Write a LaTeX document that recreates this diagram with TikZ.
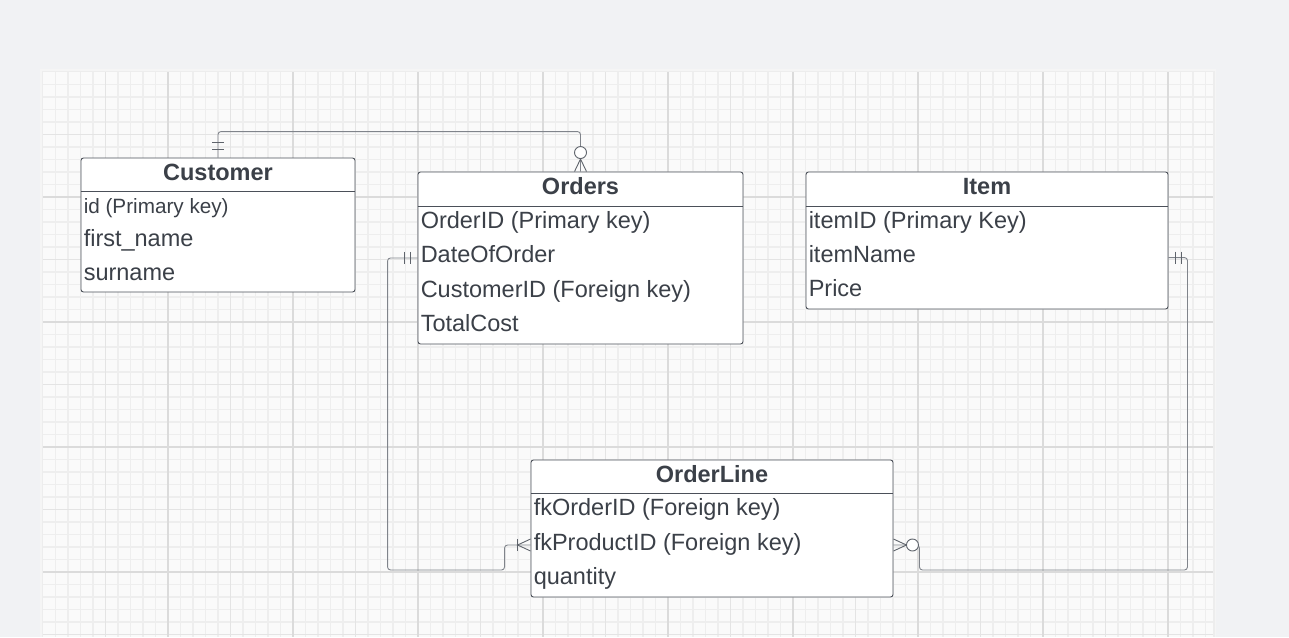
\documentclass[tikz,border=0pt]{standalone}
\usepackage{fontspec}
\setmainfont{Liberation Sans}
\usetikzlibrary{positioning, calc}
\definecolor{pagebg}{HTML}{F1F2F4}
\definecolor{gridminor}{HTML}{EEEEEE}
\definecolor{gridmid}{HTML}{E4E4E4}
\definecolor{gridmajor}{HTML}{DBDBDB}
\definecolor{boxline}{HTML}{4B5059}
\definecolor{boxtext}{HTML}{3B4048}
\definecolor{linkgray}{HTML}{80848B}
\definecolor{tickgray}{HTML}{5E636B}

\tikzset{
  entity/.style={draw=boxline, fill=white, line width=0.9pt, rounded corners=2.5, inner sep=0pt},
  ehead/.style={font=\bfseries\fontsize{23.5}{23.5}\selectfont, text=boxtext, inner sep=0pt,
    text height=1.1em, text depth=0.1em},
  erow/.style={anchor=west, text=boxtext, inner xsep=3, inner ysep=0,
    text height=1.1em, text depth=0.1em},
  divider/.style={draw=boxline, line width=0.9pt},
  link/.style={draw=linkgray, line width=0.9pt, rounded corners=3},
  tick/.style={draw=tickgray, line width=0.9pt}
}

\begin{document}
\begin{tikzpicture}[x=1pt, y=-1pt, font=\fontsize{23.5}{23.5}\selectfont]
  \useasboundingbox (0,0) rectangle (1289,637);

  % page and canvas
  \fill[pagebg] (0,0) rectangle (1289,637);
  \fill[black!4] (40,69) rectangle (1216,637);
  \fill[black!7] (41.5,70.5) rectangle (1214.5,637);
  \fill[white!98!black] (43,72) rectangle (1213,637);
  \foreach \i in {1,...,93}
    \draw[gridminor, line width=1.1pt] ({43+12.5*\i},72) -- ({43+12.5*\i},637);
  \foreach \i in {1,...,45}
    \draw[gridminor, line width=1.1pt] (43,{72+12.5*\i}) -- (1213,{72+12.5*\i});
  \foreach \i in {1,...,18}
    \draw[gridmid, line width=1.1pt] ({43+62.5*\i},72) -- ({43+62.5*\i},637);
  \foreach \i in {1,...,9}
    \draw[gridmid, line width=1.1pt] (43,{72+62.5*\i}) -- (1213,{72+62.5*\i});
  \foreach \i in {1,...,9}
    \draw[gridmajor, line width=1.2pt] ({43+125*\i},72) -- ({43+125*\i},637);
  \foreach \i in {1,...,4}
    \draw[gridmajor, line width=1.2pt] (43,{72+125*\i}) -- (1213,{72+125*\i});

  % Customer
  \node[entity, minimum width=274, minimum height=134] (cust) at (218,225) {};
  \node[ehead] (custH) at ($(cust.north)+(0,17.5)$) {Customer};
  \draw[divider] ($(cust.north west)+(0,34)$) -- ($(cust.north east)+(0,34)$);
  \node[erow, font=\fontsize{20.7}{20.7}\selectfont] (cust-1) at ($(cust.north west)+(0,50.5)$) {id (Primary key)};
  \node[erow] (cust-2) at ($(cust.north west)+(0,84)$) {first\_name};
  \node[erow] (cust-3) at ($(cust.north west)+(0,117.5)$) {surname};

  % Orders
  \node[entity, minimum width=325, minimum height=172] (ord) at (580.5,258) {};
  \node[ehead] (ordH) at ($(ord.north)+(0,18)$) {Orders};
  \draw[divider] ($(ord.north west)+(0,35)$) -- ($(ord.north east)+(0,35)$);
  \foreach \t [count=\k] in {OrderID (Primary key), DateOfOrder, CustomerID (Foreign key), TotalCost}
    \node[erow] (ord-\k) at ($(ord.north west)+(0,{35+34.25*\k-17.1})$) {\t};

  % Item
  \node[entity, minimum width=362, minimum height=137] (item) at (987,240.5) {};
  \node[ehead] (itemH) at ($(item.north)+(0,18)$) {Item};
  \draw[divider] ($(item.north west)+(0,35)$) -- ($(item.north east)+(0,35)$);
  \foreach \t [count=\k] in {itemID (Primary Key), itemName, Price}
    \node[erow] (item-\k) at ($(item.north west)+(0,{35+34*\k-17})$) {\t};

  % OrderLine
  \node[entity, minimum width=362, minimum height=137] (ol) at (712,528.5) {};
  \node[ehead] (olH) at ($(ol.north)+(0,17.5)$) {OrderLine};
  \draw[divider] ($(ol.north west)+(0,34)$) -- ($(ol.north east)+(0,34)$);
  \foreach \t [count=\k] in {fkOrderID (Foreign key), fkProductID (Foreign key), quantity}
    \node[erow] (ol-\k) at ($(ol.north west)+(0,{34+34.3*\k-17.15})$) {\t};

  % connector end points
  \coordinate (ordL) at (ord.west |- ord-2);
  \coordinate (itemR) at (item.east |- item-2);
  \coordinate (olL) at (ol.west |- ol-2);
  \coordinate (olR) at (ol.east |- ol-2);

  % Customer -- Orders
  \draw[link] (cust.north) -- ++(0,-26) -| (ord.north);
  \draw[tick] ($(cust.north)+(-6,-8)$) -- ++(12,0) ($(cust.north)+(-6,-15)$) -- ++(12,0);
  \draw[tick] ($(ord.north)+(-6,0)$) -- ($(ord.north)+(0,-12.5)$) -- ($(ord.north)+(6,0)$);
  \draw[tick, fill=white] ($(ord.north)+(0,-19)$) circle (6pt);

  % Orders -- OrderLine
  \draw[link] (ordL) -- ++(-30,0) |- ($(olL)+(-26,25)$) |- (olL);
  \draw[tick] ($(ordL)+(-13,-6)$) -- ++(0,12) ($(ordL)+(-7,-6)$) -- ++(0,12);
  \draw[tick] ($(olL)+(-13,-6)$) -- ++(0,12);
  \draw[tick] ($(olL)+(0,-6)$) -- ($(olL)+(-13,0)$) -- ($(olL)+(0,6)$);

  % Item -- OrderLine
  \draw[link] (itemR) -- ++(19,0) |- ($(olR)+(26,25)$) |- (olR);
  \draw[tick] ($(itemR)+(7,-6)$) -- ++(0,12) ($(itemR)+(13,-6)$) -- ++(0,12);
  \draw[tick] ($(olR)+(0,-6)$) -- ($(olR)+(13,0)$) -- ($(olR)+(0,6)$);
  \draw[tick, fill=white] ($(olR)+(19,0)$) circle (6pt);
\end{tikzpicture}
\end{document}
